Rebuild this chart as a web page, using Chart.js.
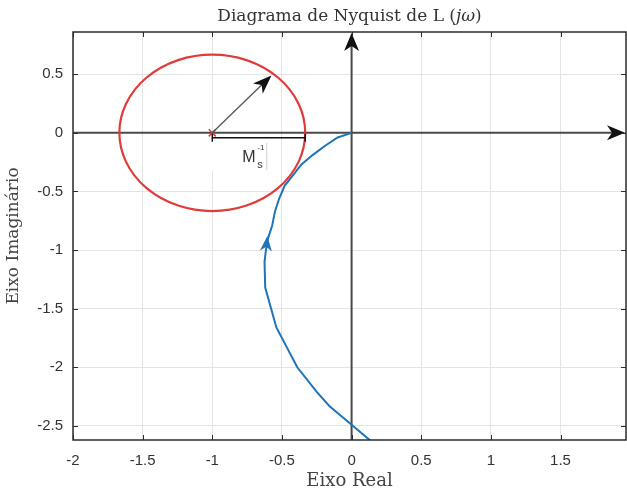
<!DOCTYPE html>
<html>
<head>
<meta charset="utf-8">
<script src="https://cdn.jsdelivr.net/npm/chart.js@4.4.1/dist/chart.umd.min.js"></script>
<style>
  html, body { margin: 0; padding: 0; background: #fff; }
  #wrap { width: 627px; height: 495px; }
</style>
</head>
<body>
<div id="wrap"><canvas id="nyq" width="627" height="495"></canvas></div>
<script>
// L(jw) locus, read from the origin downwards
const realPart = [0, -0.10, -0.19, -0.28, -0.36, -0.42, -0.48, -0.52, -0.55, -0.57, -0.60, -0.615, -0.625, -0.62, -0.54, -0.39, -0.25, -0.16, 0, 0.16];
const imagPart = [0, -0.04, -0.11, -0.19, -0.27, -0.36, -0.45, -0.56, -0.67, -0.79, -0.90, -1.0, -1.1, -1.32, -1.66, -2.0, -2.21, -2.33, -2.49, -2.65];

// critical point and the 1/Ms circle around it
const criticalPoint = [-1, 0];
const msInverse = 0.667;
const radiusTip = [-0.575, 0.49];

// direction arrow on the locus
const curveArrowFrom = [-0.615, -1.01];
const curveArrowTo = [-0.605, -0.88];

const xTicks = [-2, -1.5, -1, -0.5, 0, 0.5, 1, 1.5];
const yTicks = [-2.5, -2, -1.5, -1, -0.5, 0, 0.5];

const SERIF = "'DejaVu Serif', serif";
const SANS = "'Liberation Sans', Arial, sans-serif";

function toPx(chart, x, y) {
  return [chart.scales.x.getPixelForValue(x), chart.scales.y.getPixelForValue(y)];
}

function arrowHead(ctx, x0, y0, x1, y1, len, half, color) {
  const a = Math.atan2(y1 - y0, x1 - x0);
  ctx.save();
  ctx.translate(x1, y1);
  ctx.rotate(a);
  ctx.beginPath();
  ctx.moveTo(0, 0);
  ctx.lineTo(-len, -half);
  ctx.lineTo(-len * 0.72, 0);
  ctx.lineTo(-len, half);
  ctx.closePath();
  ctx.fillStyle = color;
  ctx.fill();
  ctx.restore();
}

// real/imag axes through the origin, label box under the bracket
const underlay = {
  id: 'underlay',
  beforeDatasetsDraw(chart) {
    const { ctx, chartArea: a } = chart;
    const [ox, oy] = toPx(chart, 0, 0);
    ctx.save();
    ctx.strokeStyle = '#4a4a4a';
    ctx.lineWidth = 2;
    ctx.beginPath();
    ctx.moveTo(a.left, oy);
    ctx.lineTo(a.right - 8, oy);
    ctx.moveTo(ox, a.bottom);
    ctx.lineTo(ox, a.top + 8);
    ctx.stroke();
    arrowHead(ctx, a.left, oy, a.right - 1, oy, 18, 7.5, '#111');
    arrowHead(ctx, ox, a.bottom, ox, a.top + 1, 18, 7.5, '#111');

    // white box behind the 1/Ms label
    const [cx, cy] = toPx(chart, criticalPoint[0], criticalPoint[1]);
    ctx.fillStyle = '#fff';
    ctx.fillRect(cx - 5, cy + 8, 59, 30);
    ctx.strokeStyle = '#cfcfcf';
    ctx.lineWidth = 1;
    ctx.beginPath();
    ctx.moveTo(cx + 54.5, cy + 10);
    ctx.lineTo(cx + 54.5, cy + 37);
    ctx.stroke();
    ctx.restore();
  }
};

const overlay = {
  id: 'overlay',
  afterDatasetsDraw(chart) {
    const { ctx, chartArea: a } = chart;
    const xs = chart.scales.x, ys = chart.scales.y;
    const [cx, cy] = toPx(chart, criticalPoint[0], criticalPoint[1]);
    const rx = xs.getPixelForValue(criticalPoint[0] + msInverse) - cx;
    const ry = cy - ys.getPixelForValue(criticalPoint[1] + msInverse);

    ctx.save();
    // sensitivity circle
    ctx.strokeStyle = '#e03b3b';
    ctx.lineWidth = 2.2;
    ctx.beginPath();
    ctx.ellipse(cx, cy, rx, ry, 0, 0, Math.PI * 2);
    ctx.stroke();

    // radius arrow
    const [tx, ty] = toPx(chart, radiusTip[0], radiusTip[1]);
    ctx.strokeStyle = '#555';
    ctx.lineWidth = 1.3;
    ctx.beginPath();
    ctx.moveTo(cx, cy);
    ctx.lineTo(tx - (tx - cx) * 0.08, ty - (ty - cy) * 0.08);
    ctx.stroke();
    arrowHead(ctx, cx, cy, tx, ty, 19, 7, '#111');

    // bracket for 1/Ms
    const by = cy + 5;
    ctx.strokeStyle = '#111';
    ctx.lineWidth = 1.5;
    ctx.beginPath();
    ctx.moveTo(cx, by);
    ctx.lineTo(cx + rx, by);
    ctx.moveTo(cx, by - 4);
    ctx.lineTo(cx, by + 4);
    ctx.moveTo(cx + rx, by - 4);
    ctx.lineTo(cx + rx, by + 4);
    ctx.stroke();

    ctx.fillStyle = '#333';
    ctx.textBaseline = 'alphabetic';
    ctx.font = '16px ' + SANS;
    ctx.fillText('M', cx + 30, cy + 29);
    ctx.font = '11px ' + SANS;
    ctx.fillText('s', cx + 45, cy + 35);
    ctx.font = '8px ' + SANS;
    ctx.fillText('-1', cx + 45, cy + 17);

    // direction arrow on the locus
    const [fx, fy] = toPx(chart, curveArrowFrom[0], curveArrowFrom[1]);
    const [hx, hy] = toPx(chart, curveArrowTo[0], curveArrowTo[1]);
    arrowHead(ctx, fx, fy, hx, hy, 15, 6, '#1f74b8');

    // frame with inward ticks
    ctx.strokeStyle = '#2b2b2b';
    ctx.lineWidth = 1.5;
    ctx.strokeRect(a.left, a.top, a.right - a.left, a.bottom - a.top);
    ctx.lineWidth = 1;
    ctx.beginPath();
    xTicks.forEach(v => {
      const p = Math.round(xs.getPixelForValue(v)) + 0.5;
      ctx.moveTo(p, a.bottom); ctx.lineTo(p, a.bottom - 5);
      ctx.moveTo(p, a.top); ctx.lineTo(p, a.top + 5);
    });
    yTicks.forEach(v => {
      const p = Math.round(ys.getPixelForValue(v)) + 0.5;
      ctx.moveTo(a.left, p); ctx.lineTo(a.left + 5, p);
      ctx.moveTo(a.right, p); ctx.lineTo(a.right - 5, p);
    });
    ctx.stroke();

    // title with italic j and omega
    const parts = [
      ['Diagrama de Nyquist de L (', ''],
      ['j\u03C9', 'italic '],
      [')', '']
    ];
    let total = 0;
    parts.forEach(p => { ctx.font = p[1] + '17px ' + SERIF; total += ctx.measureText(p[0]).width; });
    let x = (a.left + a.right) / 2 - total / 2;
    ctx.fillStyle = '#333';
    parts.forEach(p => {
      ctx.font = p[1] + '17px ' + SERIF;
      ctx.fillText(p[0], x, 21);
      x += ctx.measureText(p[0]).width;
    });
    ctx.restore();
  }
};

new Chart(document.getElementById('nyq'), {
  type: 'scatter',
  data: {
    datasets: [
      {
        label: 'L(jw)',
        data: realPart.map((re, i) => ({ x: re, y: imagPart[i] })),
        showLine: true,
        borderColor: '#1f74b8',
        borderWidth: 2,
        pointRadius: 0,
        tension: 0
      },
      {
        label: '-1',
        data: [{ x: criticalPoint[0], y: criticalPoint[1] }],
        pointStyle: 'crossRot',
        pointRadius: 5,
        borderColor: '#e03b3b',
        borderWidth: 1.5
      }
    ]
  },
  options: {
    responsive: false,
    animation: false,
    devicePixelRatio: 1,
    layout: { autoPadding: false, padding: { top: 32, right: 1, left: 0, bottom: 0 } },
    plugins: {
      legend: { display: false },
      tooltip: { enabled: false },
      title: { display: false }
    },
    scales: {
      x: {
        type: 'linear',
        min: -2,
        max: 1.97,
        afterBuildTicks: s => { s.ticks = xTicks.map(v => ({ value: v })); },
        afterFit: s => { s.height = 55; s.paddingLeft = 0; s.paddingRight = 0; },
        grid: { color: '#e4e4e4', drawTicks: false },
        border: { display: false },
        ticks: {
          color: '#333',
          font: { family: SANS, size: 15 },
          padding: 12,
          maxRotation: 0,
          autoSkip: false,
          callback: v => String(v)
        },
        title: {
          display: true,
          text: 'Eixo Real',
          color: '#444',
          font: { family: SERIF, size: 18 },
          padding: { top: 0, bottom: 3 }
        }
      },
      y: {
        type: 'linear',
        min: -2.62,
        max: 0.86,
        afterBuildTicks: s => { s.ticks = yTicks.map(v => ({ value: v })); },
        afterFit: s => { s.width = 73; s.paddingTop = 0; s.paddingBottom = 0; },
        grid: { color: '#e4e4e4', drawTicks: false },
        border: { display: false },
        ticks: {
          color: '#333',
          font: { family: SANS, size: 15 },
          padding: 10,
          autoSkip: false,
          callback: v => String(v)
        },
        title: {
          display: true,
          text: 'Eixo Imaginário',
          color: '#444',
          font: { family: SERIF, size: 17 },
          padding: { top: 3, bottom: 0 }
        }
      }
    }
  },
  plugins: [underlay, overlay]
});
</script>
</body>
</html>
